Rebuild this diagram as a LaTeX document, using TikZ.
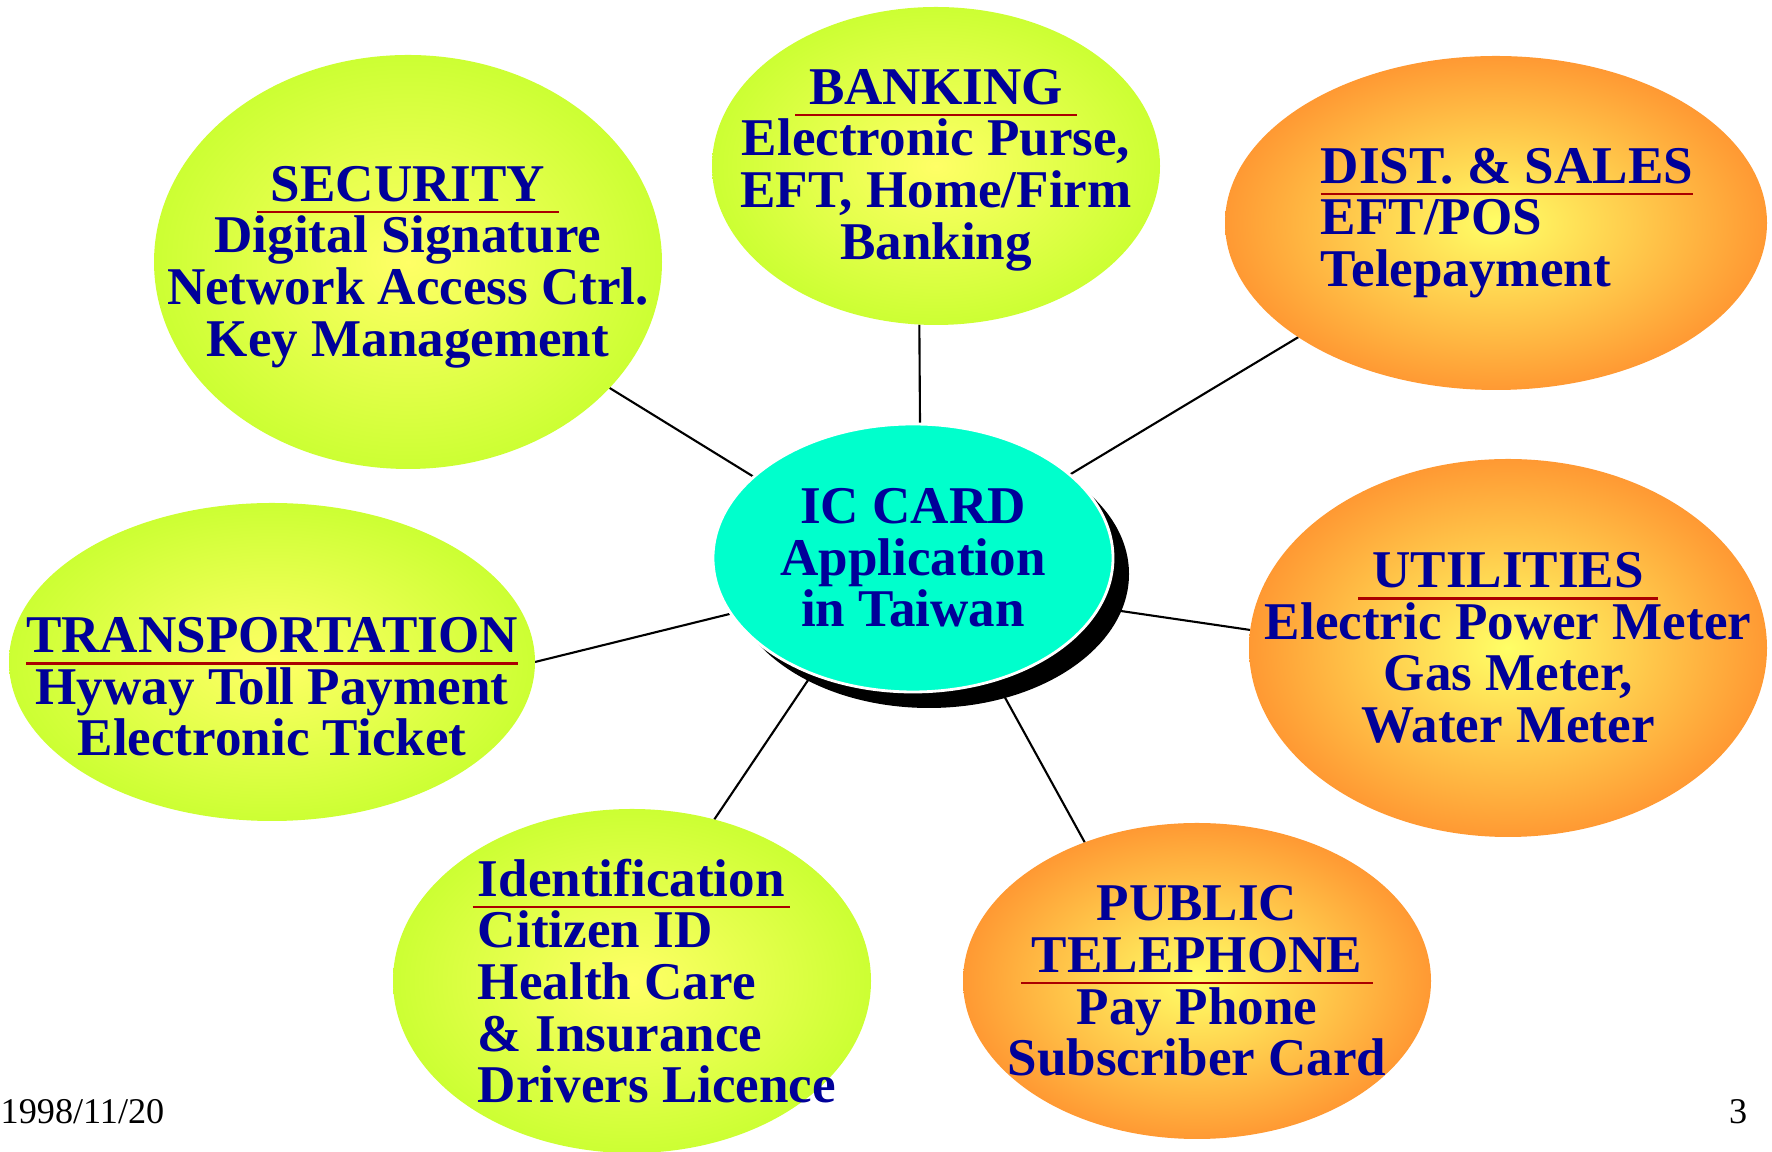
\documentclass[tikz,border=0pt]{standalone}
\usepackage{fontspec}
\setmainfont{Liberation Serif}
\usetikzlibrary{shapes.geometric,shadows,backgrounds}

\definecolor{limeout}{RGB}{204,255,51}
\definecolor{limein}{RGB}{255,255,102}
\definecolor{amberout}{RGB}{255,153,51}
\definecolor{amberin}{RGB}{255,255,102}
\definecolor{hubcyan}{RGB}{0,255,204}
\definecolor{txtblue}{RGB}{0,0,153}
\definecolor{ulred}{RGB}{170,0,0}

\newcommand{\hd}[2][0pt]{%
  \setbox0=\hbox{#2}\dimen0=\wd0 \advance\dimen0 by #1\advance\dimen0 by #1%
  \makebox[0pt][l]{\hspace*{-#1}\textcolor{ulred}{\rule[-3.4pt]{\dimen0}{0.7pt}}}\box0}

\tikzset{
  bubble/.style={ellipse, outer sep=0pt, inner sep=0pt},
  lime/.style={bubble, shade, shading=radial, inner color=limein, outer color=limeout},
  amber/.style={bubble, shade, shading=radial, inner color=amberin, outer color=amberout},
  hub/.style={bubble, fill=hubcyan, draw=white, line width=0.8pt,
    drop shadow={shadow xshift=0.16cm, shadow yshift=-0.16cm, fill=black, opacity=1}},
  txt/.style={text=txtblue, font=\bfseries\fontsize{15.1}{14.7}\selectfont, align=center, inner sep=0pt},
  small/.style={font=\fontsize{10.3}{12}\selectfont, inner sep=0pt},
  link/.style={line width=0.6pt}
}

\begin{document}
\begin{tikzpicture}
\useasboundingbox (0,0) rectangle (17.72,11.52);

\node[lime, minimum width=5.08cm, minimum height=4.14cm] (sec) at (4.08,8.90) {};
\node[lime, minimum width=4.48cm, minimum height=3.18cm] (bank) at (9.36,9.86) {};
\node[amber, minimum width=5.42cm, minimum height=3.34cm] (dist) at (14.96,9.29) {};
\node[amber, minimum width=5.18cm, minimum height=3.78cm] (util) at (15.08,5.04) {};
\node[lime, minimum width=5.26cm, minimum height=3.18cm] (trans) at (2.72,4.90) {};
\node[lime, minimum width=4.78cm, minimum height=3.44cm] (ident) at (6.32,1.71) {};
\node[amber, minimum width=4.68cm, minimum height=3.16cm] (pub) at (11.97,1.71) {};
\node[hub, minimum width=4.00cm, minimum height=2.68cm] (ic) at (9.13,5.94) {};

\begin{scope}[on background layer]
\draw[link] (ic.153) -- (sec.-32);
\draw[link] (ic.87) -- (bank.-96);
\draw[link] (ic.28) -- (dist.-150);
\draw[link] (ic.-15) -- (util.176);
\draw[link] (ic.-56) -- (pub.129);
\draw[link] (ic.-131) -- (ident.63);
\draw[link] (ic.197) -- (trans.east);
\end{scope}

\node[txt] (sec-t) at ([yshift=-0.05cm]sec) {\hd[4pt]{SECURITY}\\Digital Signature\\Network Access Ctrl.\\Key Management};
\node[txt] (bank-t) at ([yshift=-0.04cm]bank) {\hd[4pt]{BANKING}\\Electronic Purse,\\EFT, Home/Firm\\Banking};
\node[txt, align=left] (dist-t) at ([xshift=0.11cm]dist) {\hd{DIST. \& SALES}\\EFT/POS\\Telepayment};
\node[txt] (ic-t) at (ic) {IC CARD\\Application\\in Taiwan};
\node[txt] (util-t) at (util) {\hd[4pt]{UTILITIES}\\Electric Power Meter\\Gas Meter,\\Water Meter};
\node[txt] (trans-t) at ([yshift=-0.25cm]trans) {\hd{TRANSPORTATION}\\Hyway Toll Payment\\Electronic Ticket};
\node[txt, align=left] (ident-t) at ([xshift=0.25cm]ident) {\hd[1.5pt]{Identification}\\Citizen ID\\Health Care\\\& Insurance\\Drivers Licence};
\node[txt] (pub-t) at (pub) {PUBLIC\\\hd[3pt]{TELEPHONE}\\Pay Phone\\Subscriber Card};

\node[small, anchor=base west] (date) at (0,0.28) {1998/11/20};
\node[small, anchor=base east] (page) at (17.48,0.28) {3};
\end{tikzpicture}
\end{document}
